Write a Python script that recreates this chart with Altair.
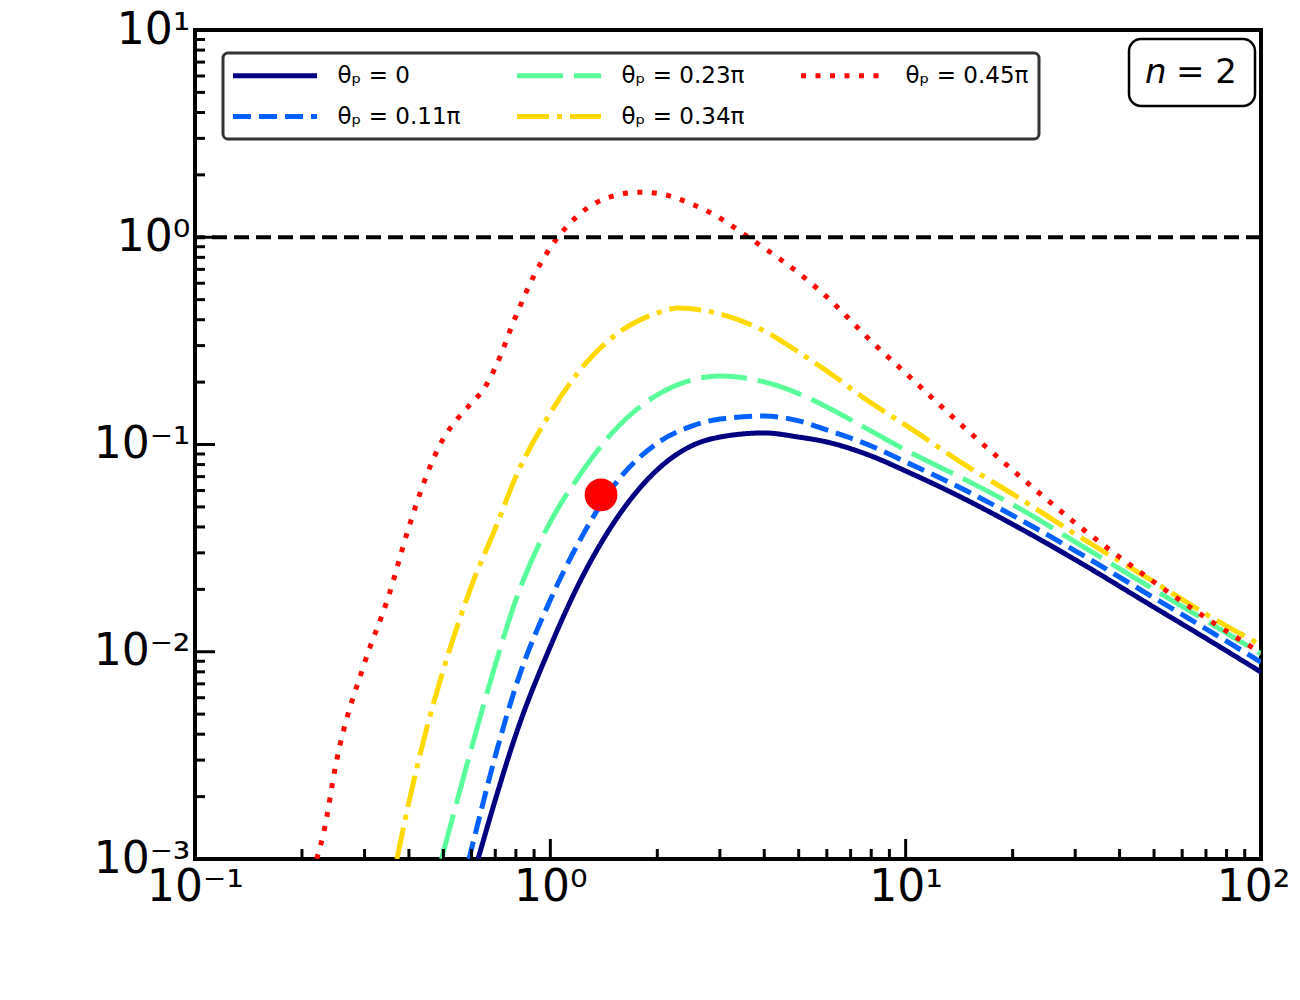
import altair as alt
import pandas as pd

# ---------------- data ----------------
SERIES = ["θₚ = 0", "θₚ = 0.11π", "θₚ = 0.23π", "θₚ = 0.34π", "θₚ = 0.45π"]
COLORS = ["#000080", "#0061FF", "#5AFF9C", "#FFD900", "#FF0900"]
DASHES = [[1, 0], [18, 8], [46, 11], [32, 8, 5, 8], [5, 9.5]]

X0 = [0.626, 0.7, 0.8, 1.0, 1.2, 1.5, 2, 2.5, 3, 4, 5, 6, 8, 10, 15, 20, 30, 50, 70, 100]
Y0 = [0.001, 0.00193, 0.00399, 0.0106, 0.0211, 0.0413, 0.0755, 0.0986, 0.1086, 0.1137,
      0.1086, 0.1028, 0.0880, 0.0745, 0.0535, 0.0412, 0.0278, 0.0164, 0.0116, 0.00798]

X1 = [0.59, 0.6, 0.7, 0.8, 1.0, 1.2, 1.5, 2, 2.5, 3, 4, 5, 6, 8, 10, 15, 20, 30, 50, 70, 100]
Y1 = [0.001, 0.00112, 0.00314, 0.00684, 0.0178, 0.0335, 0.0624, 0.1016, 0.1227, 0.1327,
      0.1372, 0.130, 0.1175, 0.0984, 0.0824, 0.0592, 0.0455, 0.0307, 0.0182, 0.0129, 0.00891]

X2 = [0.494, 0.5, 0.6, 0.7, 0.8, 1.0, 1.2, 1.5, 2, 2.5, 3, 4, 5, 6, 8, 10, 15, 20, 30, 50, 70, 100]
Y2 = [0.001, 0.00108, 0.00343, 0.00865, 0.0178, 0.0423, 0.0697, 0.1148, 0.1734, 0.2047,
      0.2141, 0.2004, 0.176, 0.1517, 0.116, 0.094, 0.0665, 0.0513, 0.0339, 0.01995, 0.01413,
      0.00977]

X3 = [0.37, 0.4, 0.45, 0.5, 0.6, 0.7, 0.8, 1.0, 1.2, 1.5, 2, 2.3, 3, 4, 5, 6, 8, 10, 15, 20,
      30, 50, 70, 100]
Y3 = [0.001, 0.00188, 0.00434, 0.00817, 0.0208, 0.0393, 0.070, 0.1419, 0.2239, 0.330, 0.431,
      0.4556, 0.4265, 0.353, 0.279, 0.2264, 0.1585, 0.124, 0.0779, 0.0577, 0.0370, 0.0217,
      0.0152, 0.01077]

X4 = [0.22, 0.23, 0.25, 0.3, 0.35, 0.4, 0.45, 0.5, 0.55, 0.6, 0.65, 0.7, 0.8, 0.9, 1.0, 1.2,
      1.5, 1.8, 2, 2.5, 3, 3.5, 4, 5, 6, 8, 10, 15, 20, 30, 50, 70, 100]
Y4 = [0.001, 0.00133, 0.00295, 0.00883, 0.01837, 0.0400, 0.0721, 0.1068, 0.1342, 0.1586,
      0.1853, 0.235, 0.417, 0.654, 0.89, 1.28, 1.58, 1.65, 1.63, 1.447, 1.238, 1.037, 0.887,
      0.672, 0.515, 0.315, 0.221, 0.116, 0.0753, 0.0418, 0.0217, 0.01457, 0.00987]

REF_LEVEL = [1.0]          # horizontal dashed line
MARK_X = [1.389]           # red marker
MARK_Y = [0.0571]

X_TICKS = [0.1, 1, 10, 100]
Y_TICKS = [0.001, 0.01, 0.1, 1, 10]
MINOR_MULT = [2, 3, 4, 5, 6, 7, 8, 9]
X_MINOR = [m * d for d in X_TICKS[:-1] for m in MINOR_MULT]
Y_MINOR = [m * d for d in Y_TICKS[:-1] for m in MINOR_MULT]

# ---------------- build ----------------
W, H = 1066, 829
XS = [X0, X1, X2, X3, X4]
YS = [Y0, Y1, Y2, Y3, Y4]
rows = []
for name, xs, ys in zip(SERIES, XS, YS):
    for xv, yv in zip(xs, ys):
        rows.append({"x": xv, "y": yv, "series": name})
df = pd.DataFrame(rows)

xscale = alt.Scale(type="log", domain=[0.1, 100], nice=False)
yscale = alt.Scale(type="log", domain=[0.001, 10], nice=False)

expo = "round(log(datum.value)/LN10)"
sup = ("(" + expo + " == -3 ? '⁻³' : " + expo + " == -2 ? '⁻²' : " + expo + " == -1 ? '⁻¹' : "
       + expo + " == 0 ? '⁰' : " + expo + " == 1 ? '¹' : '²')")
label_expr = "'10' + " + sup

xaxis = alt.Axis(values=X_TICKS, labelExpr=label_expr, ticks=False, tickSize=0, domain=False,
                 grid=False, title=None, labelFont="DejaVu Sans", labelFontSize=44,
                 labelColor="black", labelPadding=6, labelFlush=False, labelOverlap=False,
                 labelOffset={"condition": {"test": "datum.value == 100", "value": -8},
                              "value": 0})
yaxis = alt.Axis(values=Y_TICKS, labelExpr=label_expr, ticks=False, tickSize=0, domain=False,
                 grid=False, title=None, labelFont="DejaVu Sans", labelFontSize=44,
                 labelColor="black", labelPadding=5, labelFlush=False, labelOverlap=False)

legend = alt.Legend(title=None, orient="none", legendX=28, legendY=23, columns=3,
                    columnPadding=46, rowPadding=16, padding=10,
                    symbolType="M-4.2,0H4.2", symbolSize=400, symbolStrokeWidth=5,
                    symbolOffset=29.5, labelOffset=50, labelFont="DejaVu Sans",
                    labelFontSize=23, labelColor="black", labelLimit=0,
                    strokeColor="#333333", fillColor="white", cornerRadius=5)

lines = alt.Chart(df).mark_line(strokeWidth=5, interpolate="monotone", clip=True,
                                strokeCap="butt").encode(
    x=alt.X("x:Q", scale=xscale, axis=xaxis),
    y=alt.Y("y:Q", scale=yscale, axis=yaxis),
    color=alt.Color("series:N", scale=alt.Scale(domain=SERIES, range=COLORS), legend=legend),
    strokeDash=alt.StrokeDash("series:N", scale=alt.Scale(domain=SERIES, range=DASHES),
                              legend=legend),
    detail="series:N",
)

ref = alt.Chart(pd.DataFrame({"y": REF_LEVEL})).mark_rule(
    color="black", strokeWidth=4, strokeDash=[15, 7]).encode(
    y=alt.Y("y:Q", scale=yscale, axis=yaxis))

marker = alt.Chart(pd.DataFrame({"x": MARK_X, "y": MARK_Y})).mark_circle(
    size=1075, color="#FF0000", opacity=1).encode(
    x=alt.X("x:Q", scale=xscale, axis=xaxis),
    y=alt.Y("y:Q", scale=yscale, axis=yaxis))

def xticks(vals, length):
    return alt.Chart(pd.DataFrame({"x": vals})).mark_rule(color="black", strokeWidth=3).encode(
        x=alt.X("x:Q", scale=xscale, axis=xaxis),
        y=alt.value(H), y2=alt.value(H - length))

def yticks(vals, length):
    return alt.Chart(pd.DataFrame({"y": vals})).mark_rule(color="black", strokeWidth=3).encode(
        y=alt.Y("y:Q", scale=yscale, axis=yaxis),
        x=alt.value(0), x2=alt.value(length))

one = pd.DataFrame({"k": [0]})
box = alt.Chart(one).mark_rect(fill="white", stroke="black", strokeWidth=2.5,
                               cornerRadius=12).encode(
    x=alt.value(934), x2=alt.value(1060), y=alt.value(9), y2=alt.value(76))
txt_n = alt.Chart(one).mark_text(text="n", font="DejaVu Sans", fontStyle="italic",
                                 fontSize=34, align="left", baseline="alphabetic",
                                 color="black").encode(x=alt.value(950), y=alt.value(53))
txt_eq = alt.Chart(one).mark_text(text="= 2", font="DejaVu Sans", fontSize=34, align="left",
                                  baseline="alphabetic", color="black").encode(
    x=alt.value(981), y=alt.value(53))

chart = alt.layer(
    lines, ref, marker,
    xticks(X_TICKS, 20), xticks(X_MINOR, 10),
    yticks(Y_TICKS, 20), yticks(Y_MINOR, 10),
    box, txt_n, txt_eq,
).properties(
    width=W, height=H,
    padding={"left": 187, "top": 22, "right": 30, "bottom": 100},
    autosize=alt.AutoSizeParams(type="none"),
).configure(
    font="DejaVu Sans"
).configure_view(
    stroke="black", strokeWidth=4
).configure_legend(
    strokeWidth=3
)

chart.save("out.html", embed_options={"renderer": "svg", "actions": False})
